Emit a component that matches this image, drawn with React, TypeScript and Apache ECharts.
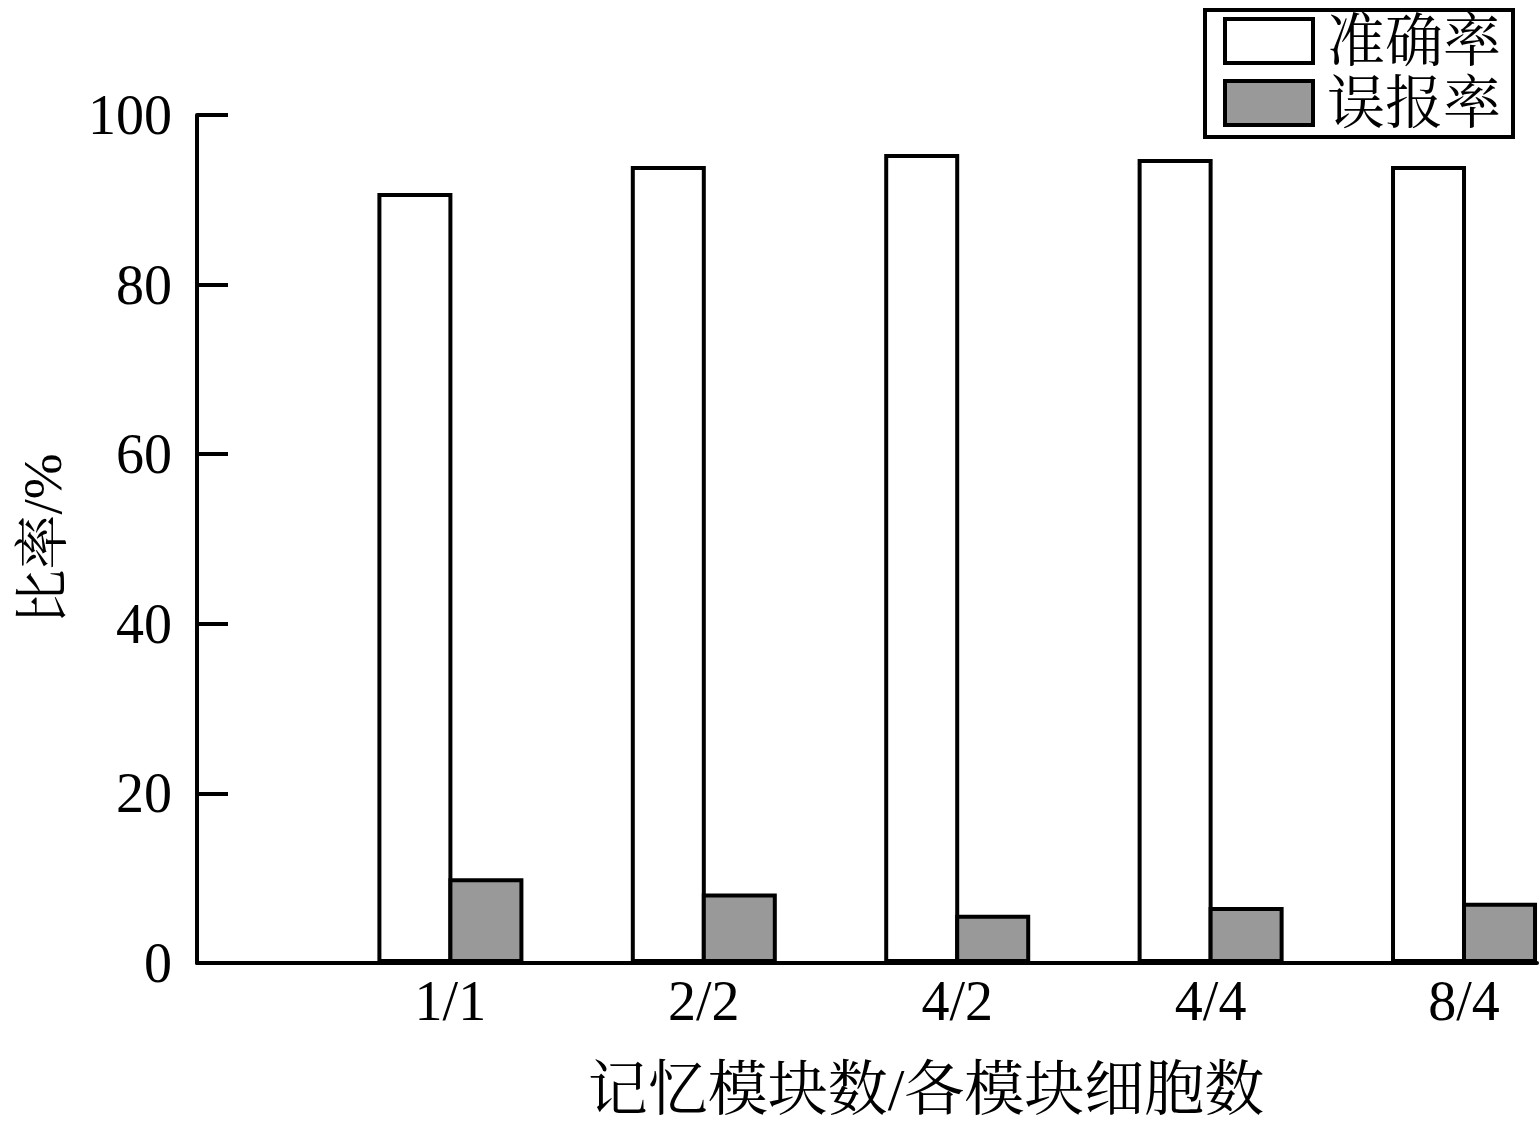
import React, { useEffect, useRef } from "react";
import * as echarts from "echarts";

const categories = ["1/1", "2/2", "4/2", "4/4", "8/4"];
const accuracy = [90.8, 94.0, 95.4, 94.8, 94.0];
const falseRate = [10.0, 8.2, 5.7, 6.6, 7.1];
const yTicks = [0, 20, 40, 60, 80, 100];
const seriesNames = ["准确率", "误报率"];

const FONT = "'Liberation Serif', 'Times New Roman', 'Noto Serif CJK SC', 'Noto Sans CJK SC', serif";

export default function App() {
  const ref = useRef<HTMLDivElement>(null);
  useEffect(() => {
    if (!ref.current) return;
    const chart = echarts.init(ref.current, undefined, { renderer: "svg" });
    const accData = categories.map((_, i) => [i + 1, accuracy[i]]);
    const falseData = categories.map((_, i) => [i + 1, falseRate[i]]);
    chart.setOption({
      animation: false,
      backgroundColor: "#fff",
      grid: { left: 197, right: 3, top: 115, bottom: 162, containLabel: false },
      legend: {
        orient: "vertical",
        left: 1205,
        top: 10,
        padding: [2, 12, 5, 18],
        itemGap: 4,
        itemWidth: 88,
        itemHeight: 44,
        borderColor: "#000",
        borderWidth: 4,
        icon: "rect",
        itemStyle: { borderColor: "#000", borderWidth: 4 },
        textStyle: {
          fontFamily: FONT,
          fontSize: 58,
          lineHeight: 44,
          color: "#000",
          padding: [0, 0, 0, 9],
        },
        data: seriesNames,
      },
      xAxis: {
        type: "value",
        min: 0,
        max: 5.288,
        interval: 1,
        splitLine: { show: false },
        axisTick: { show: false },
        axisLine: { show: true, lineStyle: { color: "#000", width: 4 } },
        axisLabel: {
          fontFamily: FONT,
          fontSize: 56,
          color: "#000",
          margin: 10,
          showMaxLabel: false,
          formatter: (v: number) => {
            const idx = Math.round(v) - 1;
            if (Math.abs(v - Math.round(v)) > 1e-6) return "";
            return categories[idx] ?? "";
          },
        },
        name: "记忆模块数/各模块细胞数",
        nameLocation: "middle",
        nameGap: 97,
        nameTextStyle: {
          fontFamily: FONT,
          fontSize: 60,
          color: "#000",
          padding: [0, 0, 0, 118],
        },
      },
      yAxis: {
        type: "value",
        min: yTicks[0],
        max: yTicks[yTicks.length - 1],
        interval: 20,
        splitLine: { show: false },
        axisLine: { show: true, lineStyle: { color: "#000", width: 4 } },
        axisTick: { show: true, inside: true, length: 31, lineStyle: { color: "#000", width: 4 } },
        axisLabel: { fontFamily: FONT, fontSize: 56, color: "#000", margin: 25 },
        name: "比率/%",
        nameLocation: "middle",
        nameGap: 127,
        nameTextStyle: { fontFamily: FONT, fontSize: 55, color: "#000" },
      },
      series: [
        {
          name: seriesNames[0],
          type: "bar",
          data: accData,
          barWidth: 75,
          barGap: "-5.33%",
          itemStyle: { color: "#fff", borderColor: "#000", borderWidth: 4 },
        },
        {
          name: seriesNames[1],
          type: "bar",
          data: falseData,
          barWidth: 75,
          barGap: "-5.33%",
          itemStyle: { color: "#999999", borderColor: "#000", borderWidth: 4 },
        },
      ],
    });
    return () => chart.dispose();
  }, []);
  return (
    <div
      ref={ref}
      style={{ position: "absolute", left: 0, top: 0, width: 1540, height: 1125, background: "#fff" }}
    />
  );
}
